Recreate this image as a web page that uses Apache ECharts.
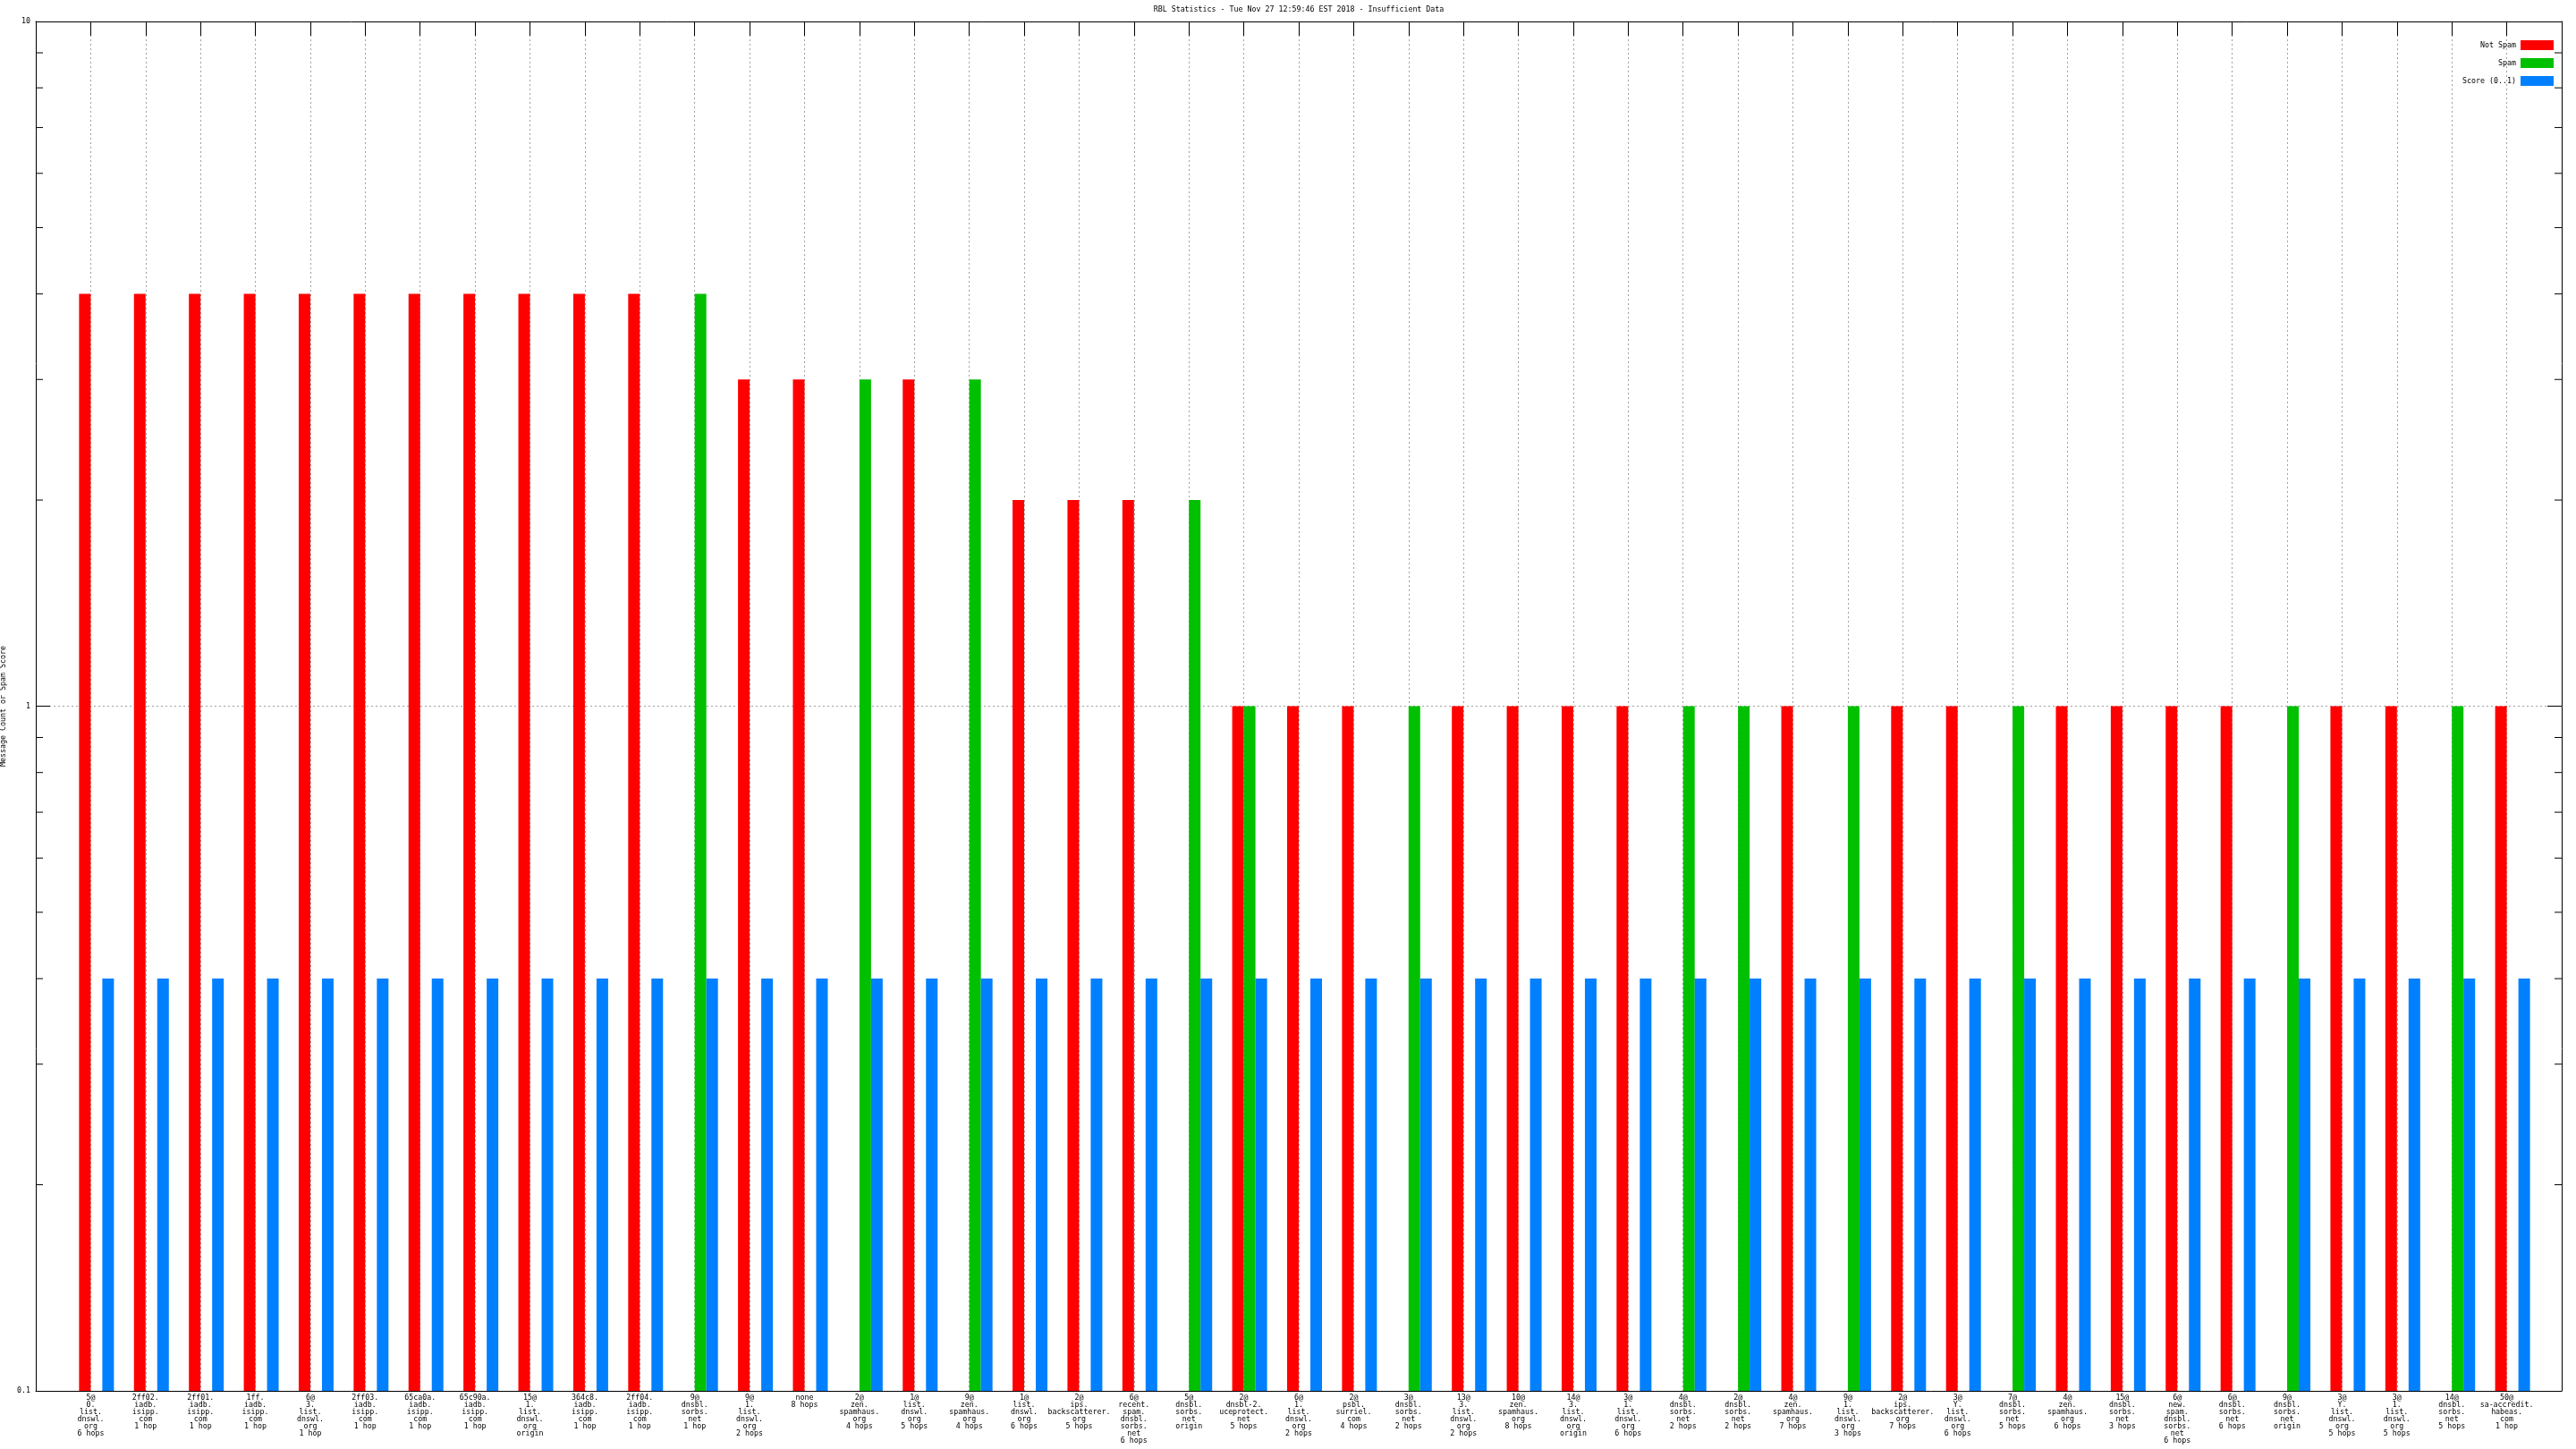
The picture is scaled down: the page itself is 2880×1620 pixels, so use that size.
<!DOCTYPE html>
<html><head><meta charset="utf-8">
<script src="https://cdn.jsdelivr.net/npm/echarts@6/dist/echarts.min.js"></script>
<style>html,body{margin:0;padding:0;background:#fff}#c{width:2880px;height:1620px}</style>
</head><body><div id="c"></div>
<script>
const TITLE = 'RBL Statistics - Tue Nov 27 12:59:46 EST 2018 - Insufficient Data';
const Y_NAME = 'Message Count or Spam Score';
const SERIES_NAMES = ['Not Spam', 'Spam', 'Score (0..1)'];
const COLORS = ['#ff0000', '#00c000', '#0080ff'];
const CATEGORIES = [
  '5@\n0.\nlist.\ndnswl.\norg\n6 hops',
  '2ff02.\niadb.\nisipp.\ncom\n1 hop',
  '2ff01.\niadb.\nisipp.\ncom\n1 hop',
  '1ff.\niadb.\nisipp.\ncom\n1 hop',
  '6@\n3.\nlist.\ndnswl.\norg\n1 hop',
  '2ff03.\niadb.\nisipp.\ncom\n1 hop',
  '65ca0a.\niadb.\nisipp.\ncom\n1 hop',
  '65c90a.\niadb.\nisipp.\ncom\n1 hop',
  '15@\n1.\nlist.\ndnswl.\norg\norigin',
  '364c8.\niadb.\nisipp.\ncom\n1 hop',
  '2ff04.\niadb.\nisipp.\ncom\n1 hop',
  '9@\ndnsbl.\nsorbs.\nnet\n1 hop',
  '9@\n1.\nlist.\ndnswl.\norg\n2 hops',
  'none\n8 hops',
  '2@\nzen.\nspamhaus.\norg\n4 hops',
  '1@\nlist.\ndnswl.\norg\n5 hops',
  '9@\nzen.\nspamhaus.\norg\n4 hops',
  '1@\nlist.\ndnswl.\norg\n6 hops',
  '2@\nips.\nbackscatterer.\norg\n5 hops',
  '6@\nrecent.\nspam.\ndnsbl.\nsorbs.\nnet\n6 hops',
  '5@\ndnsbl.\nsorbs.\nnet\norigin',
  '2@\ndnsbl-2.\nuceprotect.\nnet\n5 hops',
  '6@\n1.\nlist.\ndnswl.\norg\n2 hops',
  '2@\npsbl.\nsurriel.\ncom\n4 hops',
  '3@\ndnsbl.\nsorbs.\nnet\n2 hops',
  '13@\n3.\nlist.\ndnswl.\norg\n2 hops',
  '10@\nzen.\nspamhaus.\norg\n8 hops',
  '14@\n3.\nlist.\ndnswl.\norg\norigin',
  '3@\n1.\nlist.\ndnswl.\norg\n6 hops',
  '4@\ndnsbl.\nsorbs.\nnet\n2 hops',
  '2@\ndnsbl.\nsorbs.\nnet\n2 hops',
  '4@\nzen.\nspamhaus.\norg\n7 hops',
  '9@\n1.\nlist.\ndnswl.\norg\n3 hops',
  '2@\nips.\nbackscatterer.\norg\n7 hops',
  '3@\nY.\nlist.\ndnswl.\norg\n6 hops',
  '7@\ndnsbl.\nsorbs.\nnet\n5 hops',
  '4@\nzen.\nspamhaus.\norg\n6 hops',
  '15@\ndnsbl.\nsorbs.\nnet\n3 hops',
  '6@\nnew.\nspam.\ndnsbl.\nsorbs.\nnet\n6 hops',
  '6@\ndnsbl.\nsorbs.\nnet\n6 hops',
  '9@\ndnsbl.\nsorbs.\nnet\norigin',
  '3@\nY.\nlist.\ndnswl.\norg\n5 hops',
  '3@\n1.\nlist.\ndnswl.\norg\n5 hops',
  '14@\ndnsbl.\nsorbs.\nnet\n5 hops',
  '50@\nsa-accredit.\nhabeas.\ncom\n1 hop'
];
const NOT_SPAM = [4,4,4,4,4,4,4,4,4,4,4,null,3,3,null,3,null,2,2,2,null,1,1,1,null,1,1,1,1,null,null,1,null,1,1,null,1,1,1,1,null,1,1,null,1];
const SPAM     = [null,null,null,null,null,null,null,null,null,null,null,4,null,null,3,null,3,null,null,null,2,1,null,null,1,null,null,null,null,1,1,null,1,null,null,1,null,null,null,null,1,null,null,1,null];
const SCORE    = [0.4,0.4,0.4,0.4,0.4,0.4,0.4,0.4,0.4,0.4,0.4,0.4,0.4,0.4,0.4,0.4,0.4,0.4,0.4,0.4,0.4,0.4,0.4,0.4,0.4,0.4,0.4,0.4,0.4,0.4,0.4,0.4,0.4,0.4,0.4,0.4,0.4,0.4,0.4,0.4,0.4,0.4,0.4,0.4,0.4];
const Y_MIN = 0.1, Y_MAX = 10;
const MINOR_TICKS = [0.2,0.3,0.4,0.5,0.6,0.7,0.8,0.9,2,3,4,5,6,7,8,9];

const FONT = '"DejaVu Sans Mono", "Liberation Mono", monospace';
const FS = 8.3;
const BAR_FRAC = 13 / 61.4;

// padded categories: one empty slot each side
const XCATS = [''].concat(CATEGORIES, ['']);
function toData(arr) {
  const out = [];
  arr.forEach((v, i) => { if (v != null) out.push([i + 1, v]); });
  return out;
}
function barRender(slot) {
  return function (params, api) {
    const xi = api.value(0), v = api.value(1);
    const top = api.coord([xi, v]);
    const base = api.coord([xi, Y_MIN]);
    const bw = api.size([1, 0])[0];
    const w = bw * BAR_FRAC;
    return {
      type: 'rect',
      shape: { x: top[0] + (slot - 1) * w, y: top[1], width: w, height: base[1] - top[1] },
      style: api.style()
    };
  };
}
const grid = { left: 40, right: 16, top: 24, bottom: 65, containLabel: false, outerBoundsMode: 'none' };
const dotted = { show: true, lineStyle: { color: '#a0a0a0', width: 1, type: [2, 3] } };
const axisLine = { show: true, lineStyle: { color: '#000', width: 1 } };

const chart = echarts.init(document.getElementById('c'), null, { renderer: 'canvas' });
chart.setOption({
  animation: false,
  backgroundColor: '#fff',
  color: COLORS,
  title: {
    text: TITLE, left: 1452, top: 7, textAlign: 'center', padding: 0,
    textStyle: { fontFamily: FONT, fontSize: FS, fontWeight: 'normal', color: '#000' }
  },
  legend: {
    data: SERIES_NAMES, orient: 'vertical', right: 25, top: 45, align: 'right',
    icon: 'rect', itemWidth: 37, itemHeight: 11, itemGap: 9, padding: 0,
    textStyle: { fontFamily: FONT, fontSize: FS, color: '#000', lineHeight: 11 }
  },
  grid: grid,
  xAxis: [
    {
      type: 'category', data: XCATS, boundaryGap: false, position: 'bottom',
      axisLine: axisLine, axisTick: { show: false },
      splitLine: Object.assign({ interval: 0 }, dotted),
      axisLabel: { interval: 0, margin: 4, fontFamily: FONT, fontSize: FS, lineHeight: 8, color: '#000' }
    },
    {
      type: 'category', data: XCATS, boundaryGap: false, position: 'top',
      axisLine: axisLine, axisTick: { show: true, inside: true, length: 16, interval: 0, lineStyle: { color: '#000' } },
      axisLabel: { show: false }, splitLine: { show: false }
    }
  ],
  yAxis: [
    {
      type: 'log', logBase: 10, min: Y_MIN, max: Y_MAX, position: 'left',
      name: Y_NAME, nameLocation: 'middle', nameGap: 29,
      nameTextStyle: { fontFamily: FONT, fontSize: FS, color: '#000' },
      axisLine: axisLine, axisTick: { show: true, inside: true, length: 16, lineStyle: { color: '#000' } },
      splitLine: dotted,
      axisLabel: { margin: 6, fontFamily: FONT, fontSize: FS, color: '#000' }
    },
    {
      type: 'log', logBase: 10, min: Y_MIN, max: Y_MAX, position: 'right',
      axisLine: axisLine, axisTick: { show: true, inside: true, length: 16, lineStyle: { color: '#000' } },
      splitLine: { show: false }, axisLabel: { show: false }
    }
  ],
  series: [
    { name: SERIES_NAMES[0], type: 'custom', renderItem: barRender(0), data: toData(NOT_SPAM), itemStyle: { color: COLORS[0] }, clip: true },
    { name: SERIES_NAMES[1], type: 'custom', renderItem: barRender(1), data: toData(SPAM), itemStyle: { color: COLORS[1] }, clip: true },
    { name: SERIES_NAMES[2], type: 'custom', renderItem: barRender(2), data: toData(SCORE), itemStyle: { color: COLORS[2] }, clip: true },
    {
      name: 'minor', type: 'custom', silent: true,
      data: MINOR_TICKS.map(v => [0, v]),
      renderItem: function (params, api) {
        const y = api.coord([0, api.value(1)])[1];
        const cs = params.coordSys;
        const st = { stroke: '#000', lineWidth: 1 };
        return {
          type: 'group', children: [
            { type: 'line', shape: { x1: cs.x, y1: y, x2: cs.x + 8, y2: y }, style: st },
            { type: 'line', shape: { x1: cs.x + cs.width - 8, y1: y, x2: cs.x + cs.width, y2: y }, style: st }
          ]
        };
      }
    }
  ]
});
</script></body></html>
